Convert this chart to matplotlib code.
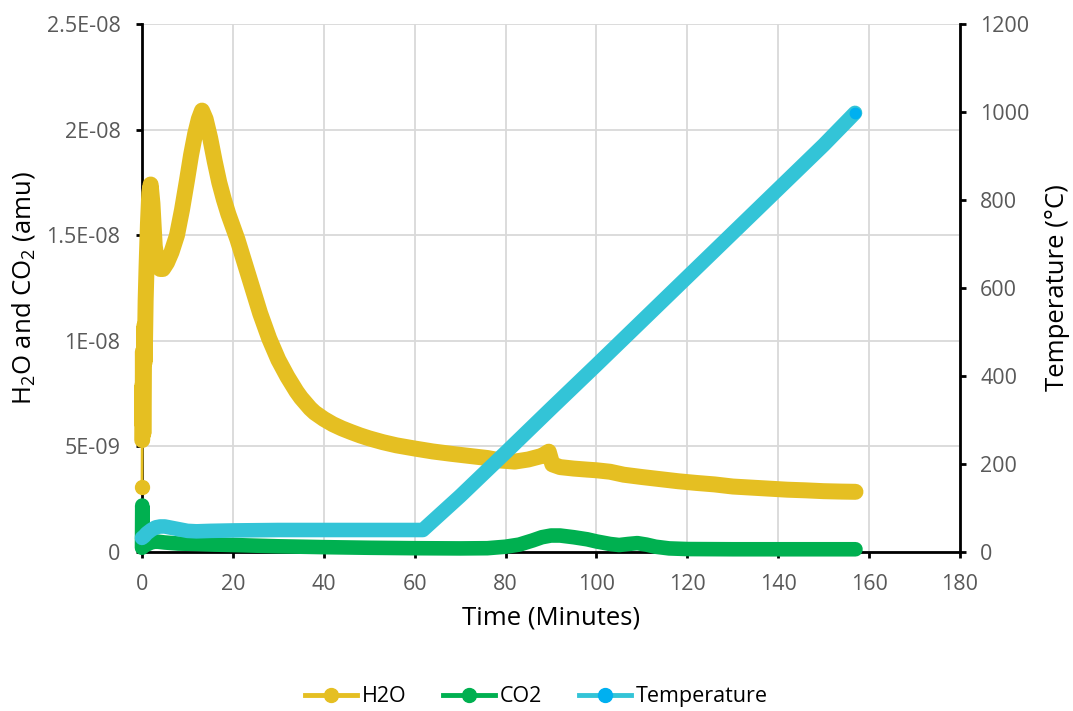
import matplotlib
matplotlib.use("Agg")
import matplotlib.pyplot as plt
from matplotlib.lines import Line2D

# time (minutes) and signals
h2o_time = [0, 0.05, 0.1, 0.15, 0.2, 0.25, 0.3, 0.4, 0.5, 0.6, 0.8, 1.0, 1.3, 1.6, 1.9, 2.3,
            2.8, 3.4, 4.0, 4.6, 5.5, 6.5, 7.7, 8.8, 9.9, 10.8, 11.7, 12.5, 13.2, 14, 15, 16,
            17, 18, 19, 20, 21, 22, 23, 24, 25, 26, 27, 28, 29, 30, 31, 32, 33, 34, 35, 36,
            37, 38, 39, 40, 42, 44, 46, 48, 50, 53, 56, 60, 64, 68, 72, 76, 79, 82, 85, 88,
            89.5, 90.3, 92, 95, 98, 100, 103, 106, 110, 114, 118, 122, 126, 130, 134, 138,
            142, 146, 150, 154, 157]
h2o = [3.1, 5.3, 7.9, 6.0, 9.5, 7.0, 5.6, 8.0, 10.7, 9.0, 11.9, 13.5, 15.5, 17.0, 17.4, 16.5,
       14.5, 13.6, 13.4, 13.4, 13.7, 14.2, 15.0, 16.2, 17.6, 18.8, 19.8, 20.5, 20.9, 20.5, 19.6,
       18.5, 17.5, 16.7, 16.0, 15.4, 14.8, 14.1, 13.4, 12.7, 12.0, 11.3, 10.7, 10.1, 9.6, 9.1,
       8.7, 8.3, 7.95, 7.6, 7.3, 7.05, 6.8, 6.6, 6.45, 6.3, 6.05, 5.85, 5.68, 5.52, 5.38, 5.2,
       5.05, 4.9, 4.76, 4.65, 4.55, 4.45, 4.33, 4.28, 4.38, 4.55, 4.75, 4.15, 4.02, 3.95, 3.9,
       3.87, 3.8, 3.66, 3.55, 3.45, 3.35, 3.27, 3.2, 3.1, 3.05, 3.0, 2.95, 2.92, 2.88, 2.86, 2.85]

co2_time = [0, 0.05, 0.1, 0.15, 0.2, 0.5, 1, 2, 3, 5, 8, 12, 16, 20, 25, 30, 40, 50, 60, 70,
            76, 80, 83, 86, 88, 90, 92, 95, 98, 100, 103, 105, 107, 109, 111, 113, 116, 120,
            130, 140, 150, 157]
co2 = [0.2, 2.2, 1.8, 1.3, 0.5, 0.3, 0.35, 0.45, 0.5, 0.45, 0.4, 0.38, 0.35, 0.33, 0.3, 0.27,
       0.23, 0.2, 0.18, 0.17, 0.18, 0.25, 0.35, 0.55, 0.7, 0.78, 0.78, 0.7, 0.6, 0.5, 0.38, 0.33,
       0.38, 0.42, 0.35, 0.25, 0.17, 0.14, 0.13, 0.13, 0.13, 0.13]

temp_time = [0, 0.5, 1, 2, 3, 4, 5, 6, 8, 10, 12, 15, 20, 30, 40, 50, 61.8, 70, 80, 90, 100,
             110, 120, 130, 140, 150, 156.9]
temp = [32, 36, 42, 50, 56, 58, 58, 56, 52, 48, 47, 48, 49, 50, 50, 50, 50, 127, 226, 326,
        425, 525, 625, 725, 825, 925, 998]

left_ticks = [0, 5e-9, 1e-8, 1.5e-8, 2e-8, 2.5e-8]
left_labels = ["0", "5E-09", "1E-08", "1.5E-08", "2E-08", "2.5E-08"]
right_ticks = [0, 200, 400, 600, 800, 1000, 1200]
x_ticks = [0, 20, 40, 60, 80, 100, 120, 140, 160, 180]

plt.rcParams['font.family'] = ['Open Sans', 'DejaVu Sans']
plt.rcParams['mathtext.default'] = 'regular'

C_H2O = '#E5BF22'
C_CO2 = '#00B050'
C_TEMP = '#33C4D7'
C_TEMP_M = '#00B0F0'
GREY = '#595959'


def draw_chart():
    fig = plt.figure(figsize=(10.73, 7.11), dpi=100)
    ax = fig.add_axes([142 / 1073, 1 - 552 / 711, (960 - 142) / 1073, (552 - 24) / 711])
    ax2 = ax.twinx()

    h = [v * 1e-9 for v in h2o]
    c = [v * 1e-9 for v in co2]

    # thin connector + first marker, then the dense-marker band
    ax.plot(h2o_time[:2], h[:2], color=C_H2O, lw=2, zorder=3, clip_on=False)
    ax.plot(h2o_time[0], h[0], 'o', color=C_H2O, ms=10, zorder=3, clip_on=False)
    ax.plot(h2o_time[1:], h[1:], color=C_H2O, lw=11.5, solid_capstyle='round',
            solid_joinstyle='round', zorder=3, clip_on=False)
    ax.plot(co2_time, c, color=C_CO2, lw=10.5, solid_capstyle='round',
            solid_joinstyle='round', zorder=3, clip_on=False)

    ax2.plot(temp_time, temp, color=C_TEMP, lw=10.5, solid_capstyle='round',
             solid_joinstyle='round', zorder=3, clip_on=False)
    ax2.plot(temp_time[-1], temp[-1], 'o', ms=7.5, color=C_TEMP_M, zorder=4, clip_on=False)

    ax.set_xlim(0, 180)
    ax.set_ylim(0, 2.5e-8)
    ax2.set_ylim(0, 1200)
    ax.set_xticks(x_ticks)
    ax.set_yticks(left_ticks)
    ax.set_yticklabels(left_labels)
    ax2.set_yticks(right_ticks)

    ax.grid(True, color='#D9D9D9', lw=1.3)
    ax.set_axisbelow(True)

    for s in ['top', 'right']:
        ax.spines[s].set_visible(False)
    for s in ['top', 'left', 'bottom']:
        ax2.spines[s].set_visible(False)
    for sp in [ax.spines['left'], ax.spines['bottom'], ax2.spines['right']]:
        sp.set_linewidth(2)
        sp.set_color('black')

    ax.tick_params(axis='both', direction='out', length=4.5, width=2, color='black',
                   labelsize=15.5, labelcolor=GREY, pad=11)
    ax2.tick_params(axis='y', direction='out', length=4.5, width=2, color='black',
                    labelsize=15.5, labelcolor=GREY, pad=10)

    ax.set_xlabel('Time (Minutes)', fontsize=18.5, labelpad=8)
    ax.set_ylabel('H$_2$O and CO$_2$ (amu)', fontsize=18.5, labelpad=7)
    ax2.set_ylabel('Temperature (°C)', fontsize=18.5, labelpad=11)

    handles = [
        Line2D([], [], color=C_H2O, lw=3.5, marker='o', ms=10, mfc=C_H2O, mec=C_H2O),
        Line2D([], [], color=C_CO2, lw=3.5, marker='o', ms=10, mfc=C_CO2, mec=C_CO2),
        Line2D([], [], color=C_TEMP, lw=3.5, marker='o', ms=10, mfc=C_TEMP_M, mec=C_TEMP_M),
    ]
    fig.legend(handles, ['H2O', 'CO2', 'Temperature'], loc='lower center',
               bbox_to_anchor=(0.5, -0.022), ncol=3, frameon=False, fontsize=15.5,
               handlelength=2.4, columnspacing=1.7, handletextpad=0.25)

    fig.savefig('out.png', dpi=100)


if __name__ == '__main__':
    draw_chart()
